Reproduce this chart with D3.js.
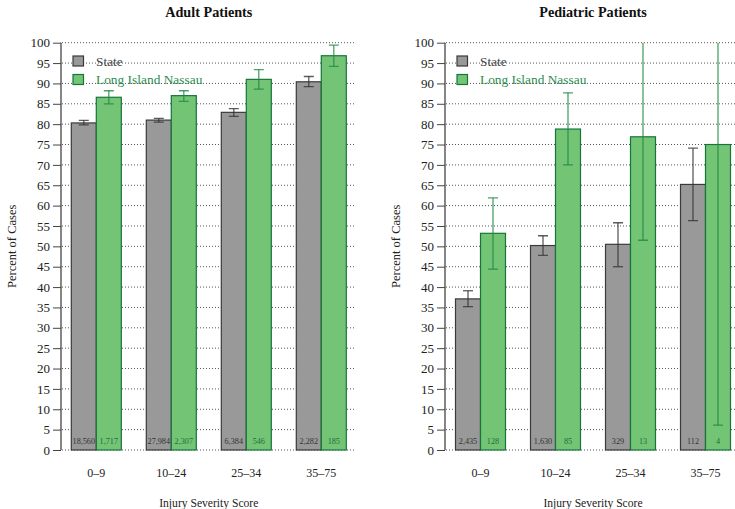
<!DOCTYPE html>
<html>
<head>
<meta charset="utf-8">
<script src="https://cdn.jsdelivr.net/npm/d3@7"></script>
<style>
body { margin: 0; background: #fff; }
svg { display: block; }
svg text { font-family: "Liberation Serif", "Times New Roman", serif; }
</style>
</head>
<body>
<svg id="chart" width="735" height="509"></svg>
<script>
const categories = ["0\u20139", "10\u201324", "25\u201334", "35\u201375"];
const seriesNames = ["State", "Long Island Nassau"];
const yTicks = [0,5,10,15,20,25,30,35,40,45,50,55,60,65,70,75,80,85,90,95,100];

const adultState = [80.3, 81.0, 82.9, 90.4];
const adultStateLo = [79.8, 80.5, 81.9, 89.2];
const adultStateHi = [80.95, 81.4, 83.8, 91.7];
const adultStateN = ["18,560", "27,984", "6,384", "2,282"];
const adultLI = [86.6, 87.0, 91.0, 96.8];
const adultLILo = [85.0, 85.6, 88.6, 94.2];
const adultLIHi = [88.2, 88.2, 93.4, 99.4];
const adultLIN = ["1,717", "2,307", "546", "185"];

const pedState = [37.1, 50.2, 50.5, 65.2];
const pedStateLo = [35.2, 47.8, 45.0, 56.3];
const pedStateHi = [39.1, 52.6, 55.8, 74.1];
const pedStateN = ["2,435", "1,630", "329", "112"];
const pedLI = [53.2, 78.8, 76.9, 75.0];
const pedLILo = [44.4, 70.0, 51.5, 6.1];
const pedLIHi = [61.9, 87.7, 102.3, 118.0];
const pedLIN = ["128", "85", "13", "4"];

const panels = [
  { title: "Adult Patients", axisX: 61, range: [58.8, 358.8], gridEnd: 356,
    series: [
      { v: adultState, lo: adultStateLo, hi: adultStateHi, n: adultStateN },
      { v: adultLI, lo: adultLILo, hi: adultLIHi, n: adultLIN } ] },
  { title: "Pediatric Patients", axisX: 445, range: [443, 743], gridEnd: 740,
    series: [
      { v: pedState, lo: pedStateLo, hi: pedStateHi, n: pedStateN },
      { v: pedLI, lo: pedLILo, hi: pedLIHi, n: pedLIN } ] }
];

const styles = [
  { fill: "#999999", stroke: "#3a3a3a", err: "#333333", text: "#333333", legendText: "#444444" },
  { fill: "#74c476", stroke: "#15763a", err: "#1f8a44", text: "#1f6e3a", legendText: "#2e8b4e" }
];

const svg = d3.select("#chart");
const y = d3.scaleLinear().domain([0, 100]).range([450, 42.7]);
const barW = 25;

panels.forEach((p, pi) => {
  const g = svg.append("g");
  const x = d3.scaleBand().domain(categories).range(p.range).padding(0);
  const clipId = "clip" + pi;
  svg.append("clipPath").attr("id", clipId).append("rect")
    .attr("x", p.range[0]).attr("y", y(100)).attr("width", p.range[1] - p.range[0]).attr("height", y(0) - y(100));

  g.append("g").selectAll("line").data(yTicks).join("line")
    .attr("x1", p.axisX + 1).attr("x2", p.gridEnd)
    .attr("y1", d => y(d)).attr("y2", d => y(d))
    .attr("stroke", "#555").attr("stroke-width", 1)
    .attr("stroke-dasharray", "1,2");

  const axis = d3.axisLeft(y).tickValues(yTicks).tickSize(8).tickPadding(3).tickFormat(d3.format("d"));
  const ag = g.append("g").attr("transform", `translate(${p.axisX},0)`).call(axis);
  ag.attr("font-family", null).attr("font-size", null);
  ag.select(".domain").attr("stroke", "#444").attr("stroke-width", 1.3).attr("d", `M0,${y(0)}V${y(100)}`);
  ag.selectAll(".tick line").attr("stroke", "#444");
  ag.selectAll(".tick text").attr("font-size", 13).attr("fill", "#222");

  p.series.forEach((s, si) => {
    const st = styles[si];
    const bx = i => x(categories[i]) + x.bandwidth() / 2 + (si === 0 ? -barW : 0);
    g.append("g").selectAll("rect").data(s.v).join("rect")
      .attr("x", (d, i) => bx(i))
      .attr("y", d => y(d))
      .attr("width", barW)
      .attr("height", d => y(0) - y(d))
      .attr("fill", st.fill)
      .attr("stroke", st.stroke).attr("stroke-width", 1.2);
    g.append("g").selectAll("text").data(s.n).join("text")
      .attr("x", (d, i) => bx(i) + barW / 2)
      .attr("y", 444)
      .attr("text-anchor", "middle")
      .attr("font-size", 8.2)
      .attr("fill", st.text)
      .text(d => d);
  });

  p.series.forEach((s, si) => {
    const st = styles[si];
    const cx = i => x(categories[i]) + x.bandwidth() / 2 + (si === 0 ? -barW / 2 : barW / 2);
    const eg = g.append("g").attr("clip-path", `url(#${clipId})`).attr("stroke", st.err).attr("stroke-opacity", 0.8).attr("stroke-width", 1.3);
    s.v.forEach((v, i) => {
      eg.append("line").attr("x1", cx(i)).attr("x2", cx(i)).attr("y1", y(s.lo[i])).attr("y2", y(s.hi[i]));
      eg.append("line").attr("x1", cx(i) - 5).attr("x2", cx(i) + 5).attr("y1", y(s.lo[i])).attr("y2", y(s.lo[i]));
      eg.append("line").attr("x1", cx(i) - 5).attr("x2", cx(i) + 5).attr("y1", y(s.hi[i])).attr("y2", y(s.hi[i]));
    });
  });

  seriesNames.forEach((name, si) => {
    const st = styles[si];
    const ly = 56 + si * 18.5;
    g.append("rect").attr("x", p.axisX + 12).attr("y", ly).attr("width", 10.5).attr("height", 10)
      .attr("fill", st.fill).attr("stroke", st.stroke).attr("stroke-width", 1.2);
    g.append("text").attr("x", p.axisX + 35).attr("y", ly + 9.7)
      .attr("font-size", 13.4).attr("fill", st.legendText).text(name);
  });

  g.append("g").selectAll("text").data(categories).join("text")
    .attr("x", d => x(d) + x.bandwidth() / 2)
    .attr("y", 476.5)
    .attr("text-anchor", "middle")
    .attr("font-size", 12).attr("fill", "#222")
    .text(d => d);

  const midX = (p.range[0] + p.range[1]) / 2;
  g.append("text").attr("x", midX).attr("y", 506.5).attr("text-anchor", "middle")
    .attr("font-size", 11.6).attr("fill", "#222").text("Injury Severity Score");
  g.append("text").attr("x", midX).attr("y", 17).attr("text-anchor", "middle")
    .attr("font-size", 14.2).attr("font-weight", "bold").attr("fill", "#111").text(p.title);
  g.append("text").attr("transform", `translate(${p.axisX - 45},${(y(0) + y(100)) / 2}) rotate(-90)`)
    .attr("text-anchor", "middle").attr("font-size", 12.5).attr("fill", "#222").text("Percent of Cases");
});
</script>
</body>
</html>
